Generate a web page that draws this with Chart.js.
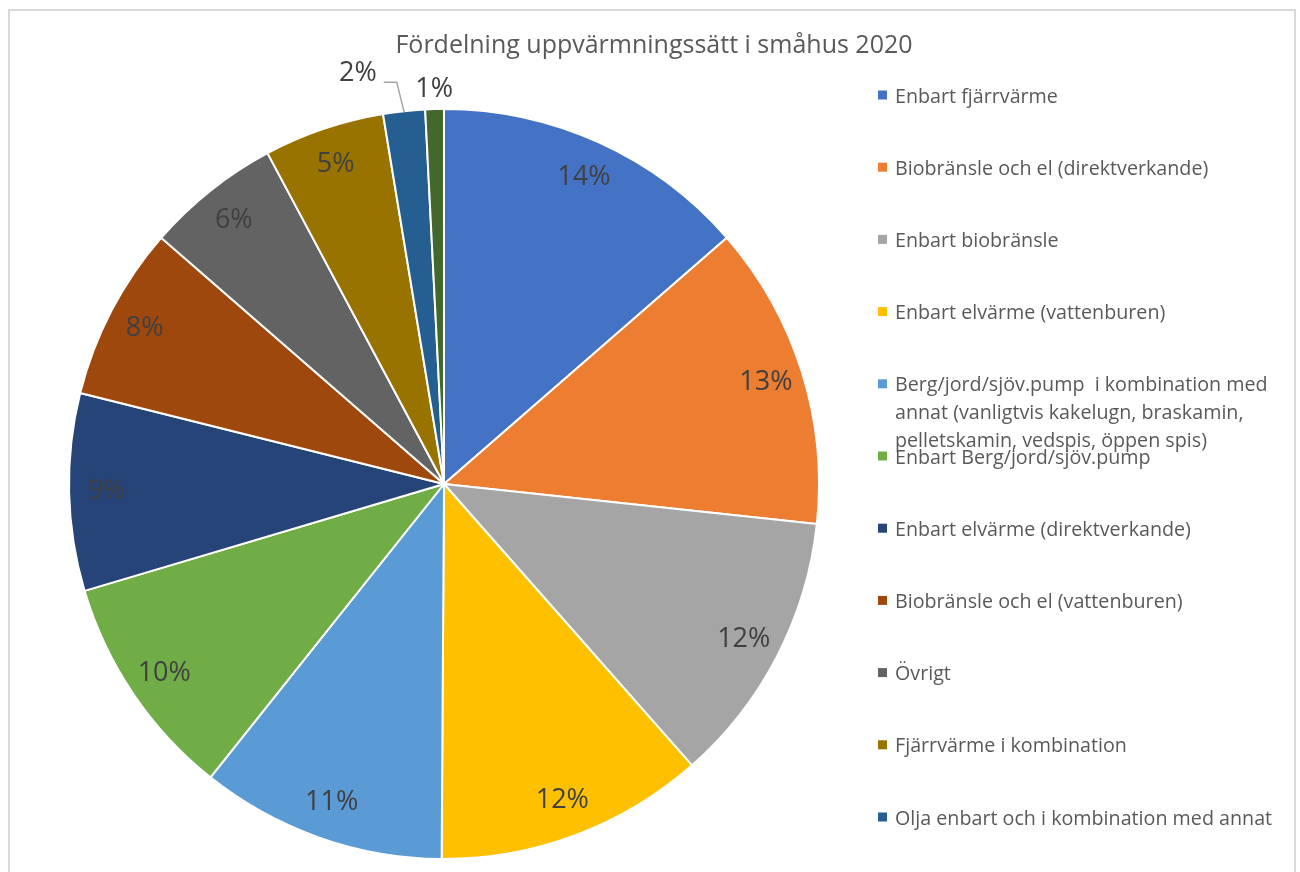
<!DOCTYPE html>
<html lang="sv">
<head>
<meta charset="utf-8">
<title>Fördelning uppvärmningssätt i småhus 2020</title>
<script src="https://cdn.jsdelivr.net/npm/chart.js@4.4.1/dist/chart.umd.min.js"></script>
<style>
  html, body { margin: 0; padding: 0; background: #fff; }
  #wrap { position: relative; width: 1300px; height: 872px; overflow: hidden; }
  #frame { position: absolute; left: 8px; top: 9px; width: 1284px; height: 900px; border: 2px solid #d9d9d9; }
  #chart { position: absolute; left: 0; top: 0; }
</style>
</head>
<body>
<div id="wrap">
  <div id="frame"></div>
  <canvas id="chart" width="1300" height="872"></canvas>
</div>
<script>
// andel småhus per uppvärmningssätt (%), medurs från kl. 12
const chartTitle = 'Fördelning uppvärmningssätt i småhus 2020';
const categories = [
    'Enbart fjärrvärme',
    'Biobränsle och el (direktverkande)',
    'Enbart biobränsle',
    'Enbart elvärme (vattenburen)',
    ['Berg/jord/sjöv.pump  i kombination med', 'annat (vanligtvis kakelugn, braskamin,', 'pelletskamin, vedspis, öppen spis)'],
    'Enbart Berg/jord/sjöv.pump',
    'Enbart elvärme (direktverkande)',
    'Biobränsle och el (vattenburen)',
    'Övrigt',
    'Fjärrvärme i kombination',
    'Olja enbart och i kombination med annat',
    'Gas'
];
const shares = [13.6, 13.1, 11.8, 11.6, 10.6, 9.7, 8.5, 7.5, 5.8, 5.2, 1.8, 0.8];
const colors = ['#4472C4', '#ED7D31', '#A5A5A5', '#FFC000', '#5B9BD5', '#70AD47',
                '#264478', '#9E480E', '#636363', '#997300', '#255E91', '#43682B'];

const FONT = '"Open Sans", "Noto Sans", sans-serif';
const total = shares.reduce((a, b) => a + b, 0);

// små tårtbitar får etikett utanför, ev. förskjuten med hänvisningslinje
const outsideNudge = { 10: { dx: -44, dy: -18, leader: true } };

const labelsPlugin = {
    id: 'pieLabels',
    afterDatasetsDraw(chart) {
        const ctx = chart.ctx;
        const meta = chart.getDatasetMeta(0);
        ctx.save();
        ctx.font = '27px ' + FONT;
        ctx.fillStyle = '#404040';
        ctx.textAlign = 'center';
        ctx.textBaseline = 'middle';
        meta.data.forEach((arc, i) => {
            const p = arc.getProps(['x', 'y', 'startAngle', 'endAngle', 'outerRadius'], true);
            const mid = (p.startAngle + p.endAngle) / 2;
            const pct = Math.round(shares[i] / total * 100);
            const txt = pct + '%';
            if (shares[i] >= 3) {
                const r = p.outerRadius * 0.9;
                ctx.fillText(txt, p.x + Math.cos(mid) * r, p.y + Math.sin(mid) * r);
                return;
            }
            const r = p.outerRadius + 20;
            let lx = p.x + Math.cos(mid) * r;
            let ly = p.y + Math.sin(mid) * r;
            const n = outsideNudge[i];
            if (n) {
                lx += n.dx; ly += n.dy;
                if (n.leader) {
                    const w = ctx.measureText(txt).width;
                    const sx = lx + w / 2 + 7, sy = ly + 9;
                    const ex = p.x + Math.cos(mid) * (p.outerRadius - 1);
                    const ey = p.y + Math.sin(mid) * (p.outerRadius - 1);
                    ctx.save();
                    ctx.strokeStyle = '#a6a6a6';
                    ctx.lineWidth = 1.5;
                    ctx.beginPath();
                    ctx.moveTo(sx, sy);
                    ctx.lineTo(sx + 13, sy);
                    ctx.lineTo(ex, ey);
                    ctx.stroke();
                    ctx.restore();
                }
            }
            ctx.fillText(txt, lx, ly);
        });
        ctx.restore();
    }
};

const titleLegendPlugin = {
    id: 'titleLegend',
    afterDraw(chart) {
        const ctx = chart.ctx;
        ctx.save();
        ctx.fillStyle = '#595959';
        ctx.textBaseline = 'middle';
        ctx.textAlign = 'center';
        ctx.font = '25px ' + FONT;
        ctx.fillText(chartTitle, 654, 46);

        ctx.textAlign = 'left';
        ctx.font = '19.7px ' + FONT;
        chart.data.labels.forEach((lab, i) => {
            const y = 95 + i * 72.2;
            ctx.fillStyle = colors[i];
            ctx.fillRect(878, y - 4.5, 9, 9);
            ctx.fillStyle = '#595959';
            const lines = Array.isArray(lab) ? lab : [lab];
            lines.forEach((ln, k) => ctx.fillText(ln, 895, y + 2 + k * 28));
        });
        ctx.restore();
    }
};

new Chart(document.getElementById('chart'), {
    type: 'pie',
    data: {
        labels: categories,
        datasets: [{
            data: shares,
            backgroundColor: colors,
            borderColor: '#ffffff',
            borderWidth: 2
        }]
    },
    options: {
        responsive: false,
        animation: false,
        devicePixelRatio: 1,
        layout: { padding: { left: 68, top: 108, right: 480, bottom: 12 } },
        plugins: {
            legend: { display: false },
            title: { display: false },
            tooltip: { enabled: false }
        }
    },
    plugins: [labelsPlugin, titleLegendPlugin]
});
</script>
</body>
</html>
